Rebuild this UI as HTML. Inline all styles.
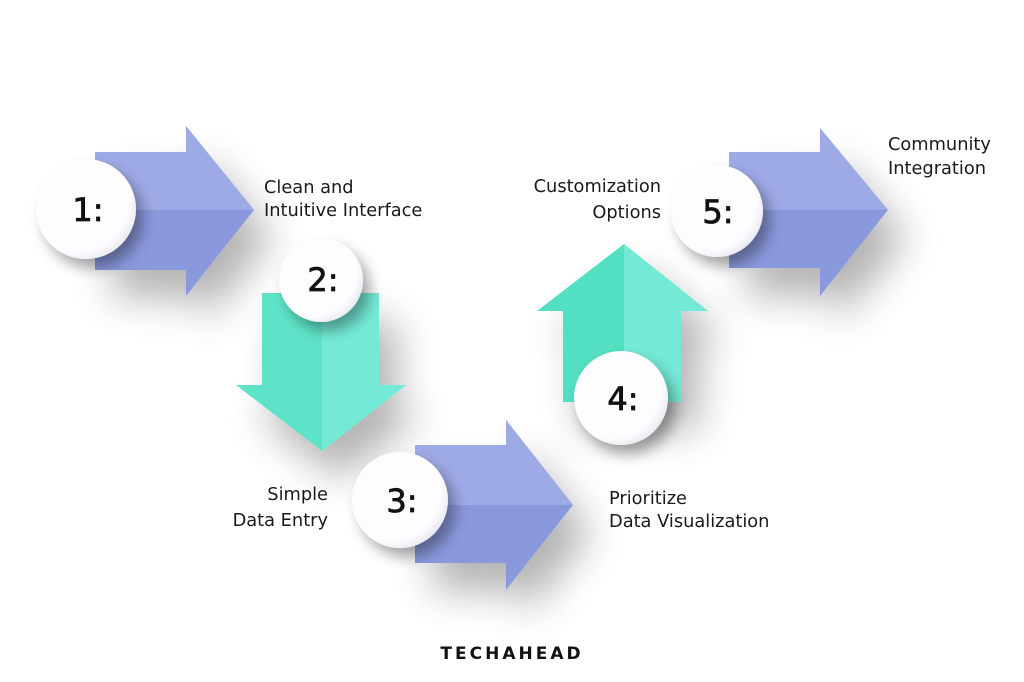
<!DOCTYPE html>
<html><head><meta charset="utf-8"><style>
html,body{margin:0;padding:0;background:#fff;}
svg{display:block;}
text{font-family:"DejaVu Sans","Liberation Sans",sans-serif;}
</style></head><body>
<svg width="1024" height="682" viewBox="0 0 1024 682">
<defs>
<filter id="sh" x="-60%" y="-60%" width="220%" height="220%">
<feGaussianBlur in="SourceAlpha" stdDeviation="20"/>
<feOffset dx="18" dy="28"/>
<feComponentTransfer><feFuncA type="linear" slope="0.3"/></feComponentTransfer>
<feMerge><feMergeNode/><feMergeNode in="SourceGraphic"/></feMerge>
</filter>
<filter id="cs" x="-50%" y="-50%" width="200%" height="200%">
<feGaussianBlur in="SourceAlpha" stdDeviation="7"/>
<feOffset dx="7" dy="9"/>
<feComponentTransfer><feFuncA type="linear" slope="0.35"/></feComponentTransfer>
<feMerge><feMergeNode/><feMergeNode in="SourceGraphic"/></feMerge>
</filter>
<radialGradient id="cg" cx="0.4" cy="0.4" r="0.7">
<stop offset="0.75" stop-color="#fdfcff"/><stop offset="1" stop-color="#e2e1e6"/>
</radialGradient>
</defs>

<g filter="url(#sh)">
<polygon points="95,152 186,152 186,126 254,210 186,296 186,270 95,270" fill="#8a98dc"/>
</g>
<polygon points="95,152 186,152 186,126 254,210 95,210" fill="#9eaae6"/>

<g filter="url(#sh)">
<polygon points="262,293 379,293 379,385 406,385 322,451 236,385 262,385" fill="#5ee3c8"/>
</g>
<polygon points="322,293 379,293 379,385 406,385 322,451" fill="#74ead6"/>

<g filter="url(#sh)">
<polygon points="415,445 506,445 506,420 573,505 506,590 506,563 415,563" fill="#8a98dc"/>
</g>
<polygon points="415,445 506,445 506,420 573,505 415,505" fill="#9eaae6"/>

<g filter="url(#sh)">
<polygon points="563,402 563,311 537,311 624,244 708,311 681,311 681,402" fill="#52dfc1"/>
</g>
<polygon points="624,244 708,311 681,311 681,402 624,402" fill="#74ead6"/>

<g filter="url(#sh)">
<polygon points="729,152 820,152 820,128 888,210 820,296 820,268 729,268" fill="#8a98dc"/>
</g>
<polygon points="729,152 820,152 820,128 888,210 729,210" fill="#9eaae6"/>

<g filter="url(#cs)" fill="url(#cg)">
<circle cx="86" cy="209" r="50"/>
<circle cx="321" cy="280" r="42"/>
<circle cx="400" cy="500" r="48"/>
<circle cx="621" cy="398" r="47"/>
<circle cx="717" cy="211" r="46"/>
</g>
<g font-size="32" fill="#111" text-anchor="middle" stroke="#111" stroke-width="0.8">
<text x="88" y="221">1:</text>
<text x="323" y="291">2:</text>
<text x="402" y="512">3:</text>
<text x="623" y="410">4:</text>
<text x="718" y="223">5:</text>
</g>

<g font-size="17.8" fill="#1a1a1a">
<text x="264" y="193">Clean and</text>
<text x="264" y="216">Intuitive Interface</text>
<text x="328" y="500" text-anchor="end">Simple</text>
<text x="328" y="526" text-anchor="end">Data Entry</text>
<text x="609" y="504">Prioritize</text>
<text x="609" y="527">Data Visualization</text>
<text x="661" y="192" text-anchor="end">Customization</text>
<text x="661" y="218" text-anchor="end">Options</text>
<text x="888" y="150">Community</text>
<text x="888" y="174">Integration</text>
</g>
<text x="512" y="659" text-anchor="middle" font-size="17" font-weight="bold" fill="#111" letter-spacing="3">TECHAHEAD</text>
</svg>
</body></html>
